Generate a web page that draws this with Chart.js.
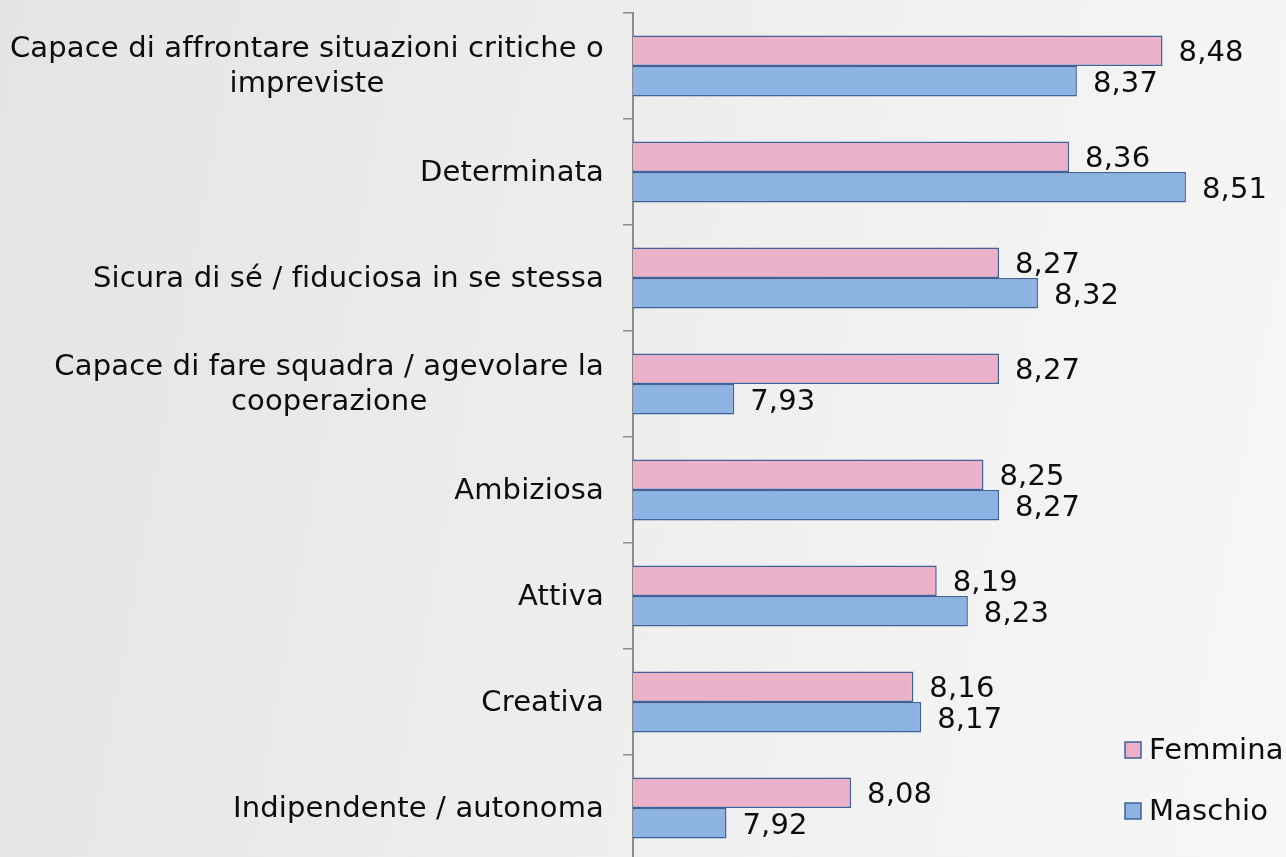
<!DOCTYPE html>
<html>
<head>
<meta charset="utf-8">
<script src="https://cdn.jsdelivr.net/npm/chart.js@4"></script>
<style>
	html, body { margin: 0; padding: 0; overflow: hidden; }
	body { background: linear-gradient(100deg, #e3e4e6 0%, #eeeeef 50%, #f7f7f7 100%); }
	#wrap { width: 1286px; height: 870px; }
</style>
</head>
<body>
<div id="wrap"><canvas id="myChart"></canvas></div>
<script>
const categories = [
	['Capace di affrontare situazioni critiche o', 'impreviste'],
	['Determinata'],
	['Sicura di sé / fiduciosa in se stessa'],
	['Capace di fare squadra / agevolare la', 'cooperazione'],
	['Ambiziosa'],
	['Attiva'],
	['Creativa'],
	['Indipendente / autonoma']
];
const femmina = [8.48, 8.36, 8.27, 8.27, 8.25, 8.19, 8.16, 8.08];
const maschio = [8.37, 8.51, 8.32, 7.93, 8.27, 8.23, 8.17, 7.92];
const series_names = ['Femmina', 'Maschio'];

const colors = ['#eab1c9', '#8db3e2'];
const border_color = '#3d6198';
const font = '29px "DejaVu Sans", Verdana, sans-serif';
const text_color = '#0d0d0d';

// small letter spacing keeps "ff" / "fi" from turning into ligatures
function set_text(ctx) {
	ctx.font = font;
	ctx.fillStyle = text_color;
	ctx.textBaseline = 'middle';
	if ('letterSpacing' in ctx) ctx.letterSpacing = '0.15px';
}

// category names drawn left of the axis, lines centred within a right-aligned block
const categoryLabels = {
	id: 'categoryLabels',
	afterDraw(chart) {
		const ctx = chart.ctx;
		const scale = chart.scales.y;
		ctx.save();
		set_text(ctx);
		ctx.textAlign = 'center';
		const line_h = 35;
		chart.data.labels.forEach((lines, i) => {
			const y = scale.getPixelForValue(i);
			const w = Math.max(...lines.map(l => ctx.measureText(l).width));
			const cx = scale.right - 29 - w / 2;
			lines.forEach((l, k) => {
				ctx.fillText(l, cx, y + (k - (lines.length - 1) / 2) * line_h + 1);
			});
		});
		ctx.restore();
	}
};

// value labels at the end of every bar
const valueLabels = {
	id: 'valueLabels',
	afterDatasetsDraw(chart) {
		const ctx = chart.ctx;
		ctx.save();
		set_text(ctx);
		ctx.textAlign = 'left';
		chart.data.datasets.forEach((ds, d) => {
			chart.getDatasetMeta(d).data.forEach((el, i) => {
				ctx.fillText(ds.data[i].toFixed(2).replace('.', ','), el.x + 16, el.y + 3);
			});
		});
		ctx.restore();
	}
};

// legend in the lower right corner, over the plot
const cornerLegend = {
	id: 'cornerLegend',
	afterDraw(chart) {
		const ctx = chart.ctx;
		ctx.save();
		set_text(ctx);
		ctx.textAlign = 'left';
		chart.data.datasets.forEach((ds, d) => {
			const y = 750 + d * 61;
			ctx.fillStyle = ds.backgroundColor;
			ctx.fillRect(1125, y - 8, 16, 16);
			ctx.strokeStyle = border_color;
			ctx.lineWidth = 1.5;
			ctx.strokeRect(1125, y - 8, 16, 16);
			ctx.fillStyle = text_color;
			ctx.fillText(ds.label, 1149, y + 1);
		});
		ctx.restore();
	}
};

var ctx = document.getElementById('myChart').getContext('2d');
var myChart = new Chart(ctx, {
	type: 'bar',
	data: {
		labels: categories,
		datasets: [
			{
				label: series_names[0],
				data: femmina,
				backgroundColor: colors[0],
				borderColor: border_color,
				borderWidth: 1.5,
				borderSkipped: false
			},
			{
				label: series_names[1],
				data: maschio,
				backgroundColor: colors[1],
				borderColor: border_color,
				borderWidth: 1.5,
				borderSkipped: false
			}
		]
	},
	options: {
		indexAxis: 'y',
		responsive: true,
		maintainAspectRatio: false,
		animation: false,
		datasets: {
			bar: { categoryPercentage: 0.575, barPercentage: 1 }
		},
		layout: { padding: { top: 13, bottom: 9, right: 30, left: 0 } },
		plugins: {
			legend: { display: false },
			tooltip: { enabled: false }
		},
		scales: {
			x: {
				display: false,
				min: 7.8,
				max: 8.6
			},
			y: {
				afterFit: (s) => { s.width = 633; },
				ticks: { display: false },
				grid: {
					offset: true,
					drawOnChartArea: false,
					drawTicks: true,
					tickLength: 10,
					color: '#8c8c8c',
					lineWidth: 1.5
				},
				border: { display: true, color: '#8c8c8c', width: 2 }
			}
		}
	},
	plugins: [categoryLabels, valueLabels, cornerLegend]
});
</script>
</body>
</html>
